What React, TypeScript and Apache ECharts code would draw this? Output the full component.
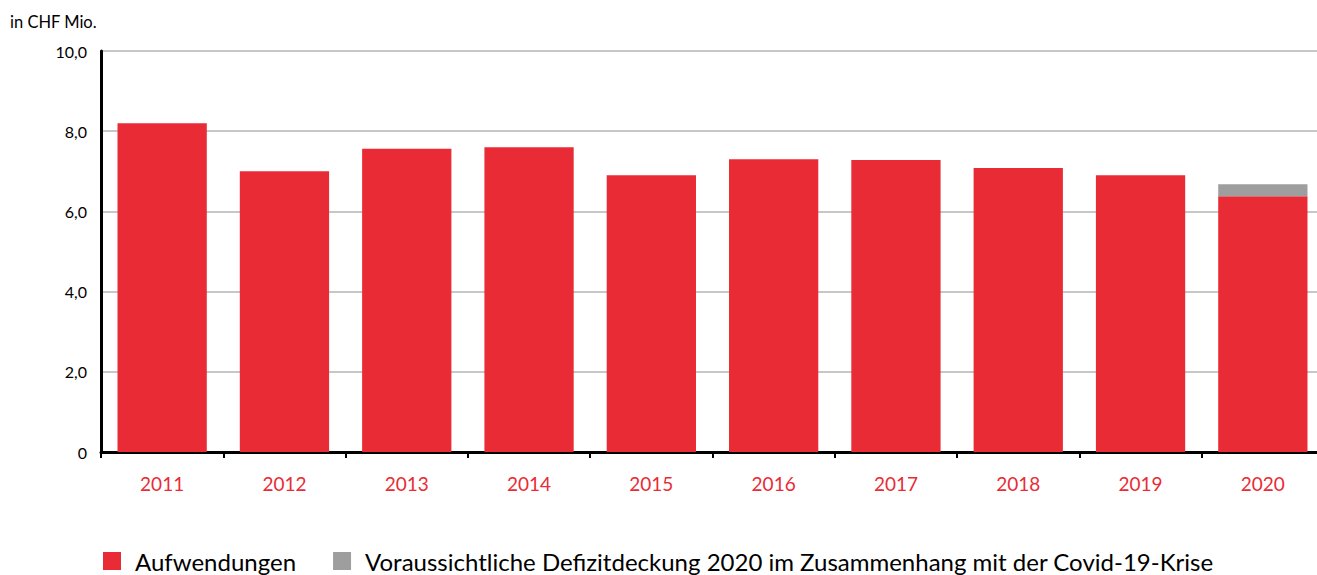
import React, { useEffect, useRef } from "react";
import * as echarts from "echarts";

const categories = ["2011", "2012", "2013", "2014", "2015", "2016", "2017", "2018", "2019", "2020"];
const aufwendungen = [8.2, 7.0, 7.56, 7.6, 6.9, 7.3, 7.28, 7.08, 6.9, 6.38];
const defizitdeckung = [null, null, null, null, null, null, null, null, null, 0.3];
const seriesNames = ["Aufwendungen", "Voraussichtliche Defizitdeckung 2020 im Zusammenhang mit der Covid-19-Krise"];
const unitLabel = "in CHF Mio.";

const RED = "#e92b35";
const GREY = "#9d9e9d";
const FONT = "Lato, 'Open Sans', sans-serif";

export default function App() {
  const ref = useRef<HTMLDivElement>(null);
  useEffect(() => {
    if (!ref.current) return;
    const chart = echarts.init(ref.current, null, { renderer: "svg" });
    chart.setOption({
      animation: false,
      textStyle: { fontFamily: FONT },
      grid: { left: 101, width: 1223, top: 51, bottom: 123, containLabel: false },
      graphic: [
        {
          type: "text",
          left: 10,
          top: 13,
          style: { text: unitLabel, fontSize: 16.5, fill: "#000", fontFamily: FONT },
        },
      ],
      legend: {
        left: 103,
        top: 549,
        padding: 0,
        itemWidth: 18,
        itemHeight: 18,
        itemGap: 37,
        icon: "rect",
        textStyle: {
          fontSize: 24,
          lineHeight: 24,
          color: "#000",
          fontFamily: FONT,
          padding: [0, 0, 0, 9],
        },
        data: seriesNames,
      },
      xAxis: {
        type: "category",
        data: categories,
        axisLine: { lineStyle: { color: "#000", width: 3 } },
        axisTick: { show: true, length: 6, lineStyle: { color: "#000", width: 2 } },
        axisLabel: { color: RED, fontSize: 19, margin: 22, fontFamily: FONT },
      },
      yAxis: {
        type: "value",
        min: 0,
        max: 10,
        interval: 2,
        axisLine: { show: true, lineStyle: { color: "#000", width: 3 } },
        axisTick: { show: false },
        splitLine: { lineStyle: { color: "#b5b5b5", width: 1.5 } },
        axisLabel: {
          color: "#000",
          fontSize: 16,
          margin: 14,
          fontFamily: FONT,
          formatter: (v: number) => (v === 0 ? "0" : v.toFixed(1).replace(".", ",")),
        },
      },
      series: [
        {
          name: seriesNames[0],
          type: "bar",
          stack: "total",
          data: aufwendungen,
          barCategoryGap: "27%",
          itemStyle: { color: RED },
        },
        {
          name: seriesNames[1],
          type: "bar",
          stack: "total",
          data: defizitdeckung,
          barCategoryGap: "27%",
          itemStyle: { color: GREY },
        },
      ],
    });
    return () => chart.dispose();
  }, []);
  return (
    <div style={{ position: "absolute", left: 0, top: 0, width: 1317, height: 575, overflow: "hidden" }}>
      <div ref={ref} style={{ width: 1324, height: 575 }} />
    </div>
  );
}
